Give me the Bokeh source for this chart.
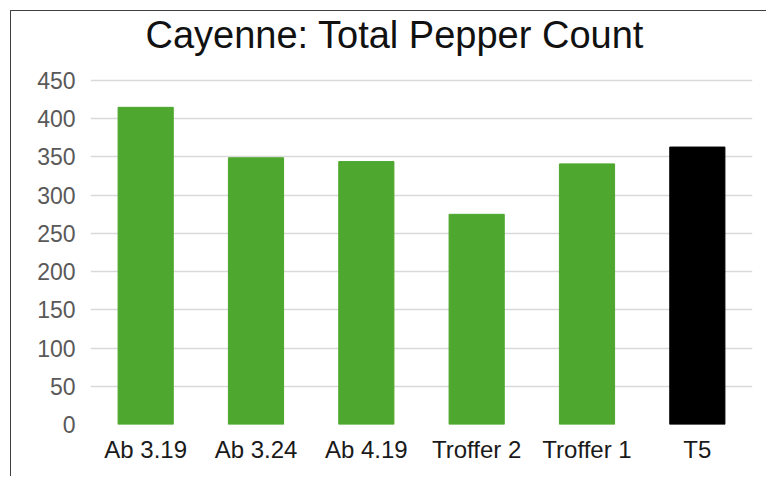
from bokeh.plotting import figure
from bokeh.models import Range1d, FactorRange, ColumnDataSource, FixedTicker
from bokeh.embed import file_html
from bokeh.resources import INLINE

# ---- data ----
categories = ["Ab 3.19", "Ab 3.24", "Ab 4.19", "Troffer 2", "Troffer 1", "T5"]
counts = [415, 349, 344, 275, 341, 363]
bar_colors = ["#4ea72e", "#4ea72e", "#4ea72e", "#4ea72e", "#4ea72e", "#000000"]
y_ticks = [0, 50, 100, 150, 200, 250, 300, 350, 400, 450]
title_text = "Cayenne: Total Pepper Count"

FONT = "Liberation Sans"

# frame extends a little above the top gridline (450) so the title can sit close to it
Y_TOP = 450 * 368 / 343

source = ColumnDataSource(dict(cat=categories, val=counts, color=bar_colors))

p = figure(
    x_range=FactorRange(*categories),
    y_range=Range1d(0, Y_TOP),
    width=756, height=466,
    output_backend="svg", toolbar_location=None,
    min_border_left=79, min_border_right=15,
    min_border_top=44, min_border_bottom=53,
)
p.margin = (10, 0, 0, 10)
p.styles = {"border-left": "1px solid #404040", "border-top": "1px solid #404040"}

p.vbar(x="cat", top="val", width=0.5, color="color", source=source)

p.outline_line_color = None
p.background_fill_color = "white"
p.border_fill_color = "white"

p.title.text = title_text
p.title.align = "left"
p.title.offset = 55
p.title.standoff = 0
p.title.text_font = FONT
p.title.text_font_size = "38px"
p.title.text_font_style = "normal"
p.title.text_color = "#111111"

p.xgrid.grid_line_color = None
p.ygrid.grid_line_color = "#d9d9d9"
p.ygrid.grid_line_width = 1.5
p.ygrid.level = "underlay"

p.yaxis.ticker = FixedTicker(ticks=y_ticks)
p.yaxis.axis_line_color = None
p.yaxis.major_tick_line_color = None
p.yaxis.major_tick_out = 0
p.yaxis.minor_tick_line_color = None
p.yaxis.major_label_text_font = FONT
p.yaxis.major_label_text_font_size = "23px"
p.yaxis.major_label_text_color = "#595959"
p.yaxis.major_label_standoff = 15

p.xaxis.axis_line_color = None
p.xaxis.major_tick_line_color = None
p.xaxis.major_tick_out = 0
p.xaxis.major_label_text_font = FONT
p.xaxis.major_label_text_font_size = "24px"
p.xaxis.major_label_text_color = "#1a1a1a"
p.xaxis.major_label_standoff = 11

open("out.html", "w").write(file_html(p, INLINE))
